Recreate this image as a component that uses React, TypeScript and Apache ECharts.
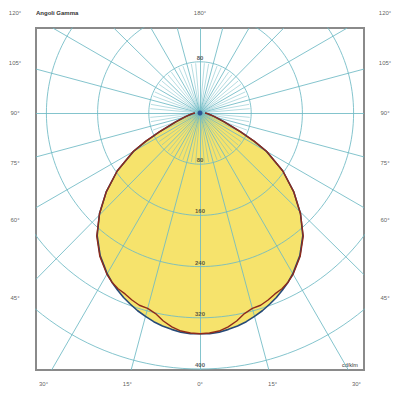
import React, { useEffect, useRef } from "react";
import * as echarts from "echarts";

// ---- data ----
const gammaDeg = [0, 2.5, 5, 7.5, 10, 12.5, 15, 17.5, 20, 22.5, 25, 27.5, 30, 35, 40, 45, 50, 55, 60, 62.5, 65, 70, 75, 80, 85, 90];
const intensityC0 = [345, 345, 344, 341, 338, 334, 329, 324, 318, 312, 305, 298, 290, 272, 250, 222, 191, 158, 120, 95, 70, 40, 25, 17, 12, 8];
const intensityC90 = [345, 344, 342, 337, 330, 321, 316, 315, 311, 306, 303, 298, 291, 273, 251, 222, 191, 158, 121, 96, 71, 40, 25, 17, 12, 8];
const ringValues = [80, 160, 240, 320, 400];
const ringLabels = ["80", "160", "240", "320", "400"];
const majorRayStep = 15;
const minorRayStep = 5;
const minorRayLength = 78;
const angleLabelsLeft = [120, 105, 90, 75, 60, 45, 30, 15];
const angleLabelsRight = [15, 30, 45, 60, 75, 90, 105, 120];
const titleText = "Angoli Gamma";
const unitText = "cd/klm";

// ---- layout ----
const PX = 0.64; // pixels per cd
const CX = 200, CY = 113;
const BOX = { left: 36, right: 364, top: 28, bottom: 370 };
const FRAME = { side: 185, bottom: 271, top: 100 };
const DIAG_EPS = 0.4; // nudge for exact 45° diagonals (rendering artefact)

const GRID_COLOR = "rgba(110,186,196,0.85)";
const FONT = "Liberation Sans, Arial, sans-serif";

const X_MIN = -(CX - BOX.left) / PX;
const X_MAX = (BOX.right - CX) / PX;
const Y_MIN = -(BOX.bottom - CY) / PX;
const Y_MAX = (CY - BOX.top) / PX;

function polarPoint(gDeg: number, I: number): [number, number] {
  const g = (gDeg * Math.PI) / 180;
  return [I * Math.sin(g), -I * Math.cos(g)];
}

function rayEnd(gDeg: number): [number, number] {
  const [dx, dy] = polarPoint(gDeg, 1);
  let t = Infinity;
  if (dx > 1e-9) t = Math.min(t, X_MAX / dx);
  if (dx < -1e-9) t = Math.min(t, X_MIN / dx);
  if (dy > 1e-9) t = Math.min(t, Y_MAX / dy);
  if (dy < -1e-9) t = Math.min(t, Y_MIN / dy);
  return [dx * t, dy * t];
}

function curve(values: number[]): [number, number][] {
  const pts: [number, number][] = [];
  for (let i = gammaDeg.length - 1; i >= 0; i--) pts.push(polarPoint(-gammaDeg[i], values[i]));
  for (let i = 1; i < gammaDeg.length; i++) pts.push(polarPoint(gammaDeg[i], values[i]));
  return pts;
}

function labelPos(g: number): [number, number] {
  const a = (g * Math.PI) / 180;
  const s = Math.sin(a), c = Math.cos(a);
  const side = FRAME.side / PX, bot = FRAME.bottom / PX, top = FRAME.top / PX;
  const ag = Math.abs(g);
  if (ag < 1e-6) return [0, -bot];
  if (ag >= 179) return [0, top];
  if (ag <= 30) {
    const t = bot / c;
    return [s * t, -bot];
  }
  const t = side / Math.abs(s);
  let y = -c * t;
  if (y > top) y = top;
  if (y < -bot) y = -bot;
  return [Math.sign(s) * side, y];
}

export default function App() {
  const ref = useRef<HTMLDivElement>(null);
  useEffect(() => {
    if (!ref.current) return;
    const chart = echarts.init(ref.current, null, { renderer: "svg" });

    const ringSeries: any[] = [];
    ringValues.forEach((r) => {
      const pts: [number, number][] = [];
      for (let d = 0; d <= 360; d += 2) pts.push(polarPoint(d, r));
      ringSeries.push({
        type: "line", data: pts, showSymbol: false, clip: true, z: 3, silent: true,
        lineStyle: { color: GRID_COLOR, width: 1 },
      });
    });
    const majorRays: any[] = [];
    const minorRays: any[] = [];
    for (let d = 0; d < 360; d += minorRayStep) {
      const a = d % 90 === 45 ? d + DIAG_EPS : d;
      if (d % majorRayStep === 0) majorRays.push({ coords: [[0, 0], rayEnd(a)] });
      else minorRays.push({ coords: [[0, 0], polarPoint(a, minorRayLength)] });
    }

    const c0 = curve(intensityC0);
    const c90 = curve(intensityC90);
    const yellow = "#f6e36c";

    const angleData: any[] = [];
    angleLabelsLeft.forEach((g) => angleData.push({ value: labelPos(-g), name: g + "°" }));
    angleData.push({ value: labelPos(0), name: "0°" });
    angleLabelsRight.forEach((g) => angleData.push({ value: labelPos(g), name: g + "°" }));
    angleData.push({ value: labelPos(180), name: "180°" });

    const ringData: any[] = [];
    ringValues.forEach((r, i) => ringData.push({ value: [0, -r], name: ringLabels[i] }));
    ringData.push({ value: [0, ringValues[0]], name: ringLabels[0] });

    chart.setOption({
      animation: false,
      backgroundColor: "#ffffff",
      grid: {
        left: BOX.left, right: 400 - BOX.right, top: BOX.top, bottom: 400 - BOX.bottom,
        show: true, borderColor: "#8a8a8a", borderWidth: 2, backgroundColor: "#ffffff",
      },
      xAxis: { type: "value", min: X_MIN, max: X_MAX, show: false },
      yAxis: { type: "value", min: Y_MIN, max: Y_MAX, show: false },
      series: [
        { type: "line", data: c0, showSymbol: false, clip: true, z: 1, lineStyle: { width: 0 }, areaStyle: { color: yellow, opacity: 1 } },
        { type: "line", data: c90, showSymbol: false, clip: true, z: 1, lineStyle: { width: 0 }, areaStyle: { color: yellow, opacity: 1 } },
        ...ringSeries,
        {
          type: "lines", coordinateSystem: "cartesian2d", data: majorRays, z: 3, silent: true,
          lineStyle: { color: GRID_COLOR, width: 1, opacity: 1 },
        },
        {
          type: "lines", coordinateSystem: "cartesian2d", data: minorRays, z: 3, silent: true,
          lineStyle: { color: GRID_COLOR, width: 0.6, opacity: 1 },
        },
        { type: "line", data: c0, showSymbol: false, clip: true, z: 5, lineStyle: { color: "#264a78", width: 1.6 } },
        { type: "line", data: c90, showSymbol: false, clip: true, z: 6, lineStyle: { color: "#8e2b1c", width: 1.4 } },
        {
          type: "scatter", data: [[0, 0]], symbolSize: 5, z: 7, clip: true,
          itemStyle: { color: "#1d3f8a" },
        },
        {
          type: "scatter", data: ringData, symbolSize: 0, z: 8, clip: false,
          label: {
            show: true, position: "inside", offset: [0, -4], formatter: (p: any) => p.name,
            fontSize: 6, fontFamily: FONT, fontWeight: "bold", color: "#333",
          },
        },
        {
          type: "scatter", data: angleData, symbolSize: 0, z: 8, clip: false,
          label: {
            show: true, position: "inside", formatter: (p: any) => p.name,
            fontSize: 6, fontFamily: FONT, color: "#333",
          },
        },
      ],
      graphic: [
        { type: "text", left: 36, top: 10, style: { text: titleText, fontSize: 6, fontFamily: FONT, fill: "#333", fontWeight: "bold" } },
        { type: "text", left: 342, top: 362, style: { text: unitText, fontSize: 5.5, fontFamily: FONT, fill: "#333" } },
      ],
    });
    return () => chart.dispose();
  }, []);
  return <div ref={ref} style={{ position: "fixed", left: 0, top: 0, width: 400, height: 400 }} />;
}
